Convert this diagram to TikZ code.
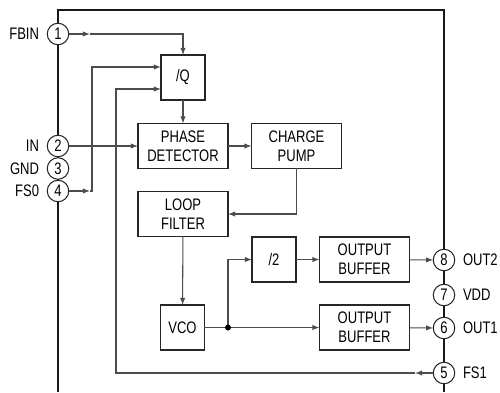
\documentclass[tikz,border=0pt]{standalone}
\usepackage{fontspec}
\setmainfont{Liberation Sans}[FakeStretch=0.78]
\usetikzlibrary{arrows.meta}
\begin{document}
\begin{tikzpicture}[x={(0.02cm,0cm)},y={(0cm,-0.02cm)},
  every node/.style={font=\fontsize{9.5}{10.8}\selectfont, inner sep=0pt, outer sep=0pt},
  blk/.style={draw=black!85, line width=0.6pt, fill=white, align=center, minimum height=0.9cm},
  smallblk/.style={blk, minimum width=0.88cm},
  bigblk/.style={blk, minimum width=1.8cm},
  pin/.style={draw=black!85, circle, fill=white, minimum size=0.43cm, line width=0.6pt},
  wire/.style={draw=black!70, line width=0.6pt},
  arr/.style={-{Latex[length=4pt,width=3pt]}}]
\useasboundingbox (0,0) rectangle (500,392);
% package outline
\draw[black!90, line width=1.3pt] (58,392) -- (58,10) -- (444,10) -- (444,392);
% blocks
\node[smallblk] (divq) at (183,77.5) {/Q};
\node[bigblk] (pd) at (183,146) {PHASE\\DETECTOR};
\node[bigblk] (cp) at (296.5,146) {CHARGE\\PUMP};
\node[bigblk] (lf) at (183,214) {LOOP\\FILTER};
\node[smallblk] (vco) at (182.5,327.5) {VCO};
\node[smallblk] (div2) at (274,259.5) {/2};
\node[bigblk] (ob1) at (364.5,259.5) {OUTPUT\\BUFFER};
\node[bigblk] (ob2) at (364.5,327.5) {OUTPUT\\BUFFER};
% pins
\node[pin] (p1) at (58,34) {1};
\node[pin] (p2) at (58,146) {2};
\node[pin] (p3) at (58,168.5) {3};
\node[pin] (p4) at (58,191) {4};
\node[pin] (p8) at (444,260) {8};
\node[pin] (p7) at (444,295) {7};
\node[pin] (p6) at (444,328) {6};
\node[pin] (p5) at (444,373) {5};
\node[anchor=east] (l1) at (39,34) {FBIN};
\node[anchor=east] (l2) at (39,146) {IN};
\node[anchor=east] (l3) at (39,168.5) {GND};
\node[anchor=east] (l4) at (39,191) {FS0};
\node[anchor=west] (l8) at (463,260) {OUT2};
\node[anchor=west] (l7) at (463,295) {VDD};
\node[anchor=west] (l6) at (463,328) {OUT1};
\node[anchor=west] (l5) at (463,373) {FS1};
% helper points
\coordinate (fbin) at (90,34);
\coordinate (fs0) at (90,191);
\coordinate (fs1) at (415,373);
\coordinate (qa) at (161,67);
\coordinate (qb) at (161,89);
\coordinate (tap) at (228,327.5);
% wires
\draw[wire,arr] (p1) -- (fbin);
\draw[wire,arr] (fbin) -| (divq);
\draw[wire,arr] (p4) -- (fs0);
\draw[wire,arr] (fs0) -- (92,191) |- (qa);
\draw[wire,arr] (p5) -- (fs1);
\draw[wire,arr] (fs1) -| (116,89) -- (qb);
\draw[wire,arr] (p2) -- (pd);
\draw[wire,arr] (divq) -- (pd);
\draw[wire,arr] (pd) -- (cp);
\draw[wire,arr] (cp.south) |- (lf.east);
\draw[wire,arr] (lf) -- (vco);
\draw[wire] (vco) -- (tap);
\draw[wire,arr] (tap) -- (ob2);
\draw[wire,arr] (tap) |- (div2);
\draw[wire,arr] (div2) -- (ob1);
\draw[wire,arr] (ob1) -- (p8);
\draw[wire,arr] (ob2) -- (p6);
\fill[black] (tap) circle (0.06cm);
\end{tikzpicture}
\end{document}
